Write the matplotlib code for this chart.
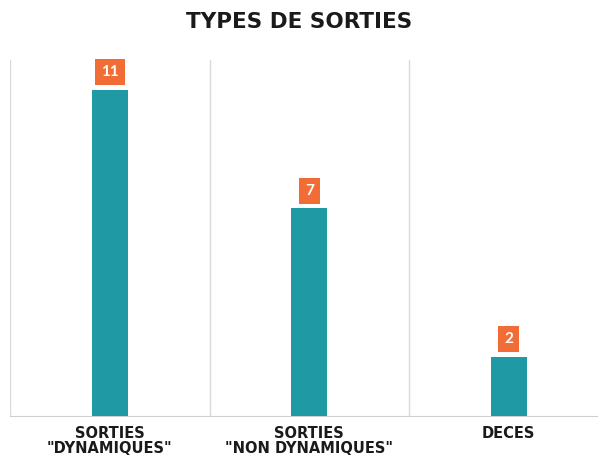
import matplotlib
matplotlib.use("Agg")
import matplotlib.pyplot as plt

categories = ['SORTIES\n"DYNAMIQUES"', 'SORTIES\n"NON DYNAMIQUES"', 'DECES']
values = [11, 7, 2]

teal = '#1f9aa5'
orange = '#f26c36'

fig = plt.figure(figsize=(5.98, 4.59), dpi=100)
# axes runs a bit past the right edge, like the original
ax = fig.add_axes([10/598, 43/459, 598.5/598, 356/459])

x = range(len(values))
ax.bar(x, values, width=0.18, color=teal, zorder=3)
ax.set_xlim(-0.5, len(values) - 0.5)
ax.set_ylim(0, 12)

for xc in [-0.5, 0.5, 1.5, 2.5]:
    ax.axvline(xc, color='#d9d9d9', lw=1, zorder=1)

for xi, v in zip(x, values):
    ax.annotate(str(v), (xi, v), xytext=(0, 12.5), textcoords='offset points',
                ha='center', va='center', color='white', fontsize=11,
                fontweight='bold', family='Lato',
                bbox=dict(boxstyle='square,pad=0.4', fc=orange, ec='none'))

ax.set_xticks(list(x))
ax.set_xticklabels(categories, fontsize=10.5, fontweight='bold', color='#1a1a1a',
                   linespacing=1.05)
ax.tick_params(axis='x', length=0, pad=7)
ax.set_yticks([])
for s in ['top', 'left', 'right']:
    ax.spines[s].set_visible(False)
ax.spines['bottom'].set_color('#d0d0d0')

fig.text(0.5, 1 - 22/459, 'TYPES DE SORTIES', ha='center', va='center',
         fontsize=15.5, fontweight='bold', color='#1a1a1a')

fig.savefig('out.png', dpi=100)
